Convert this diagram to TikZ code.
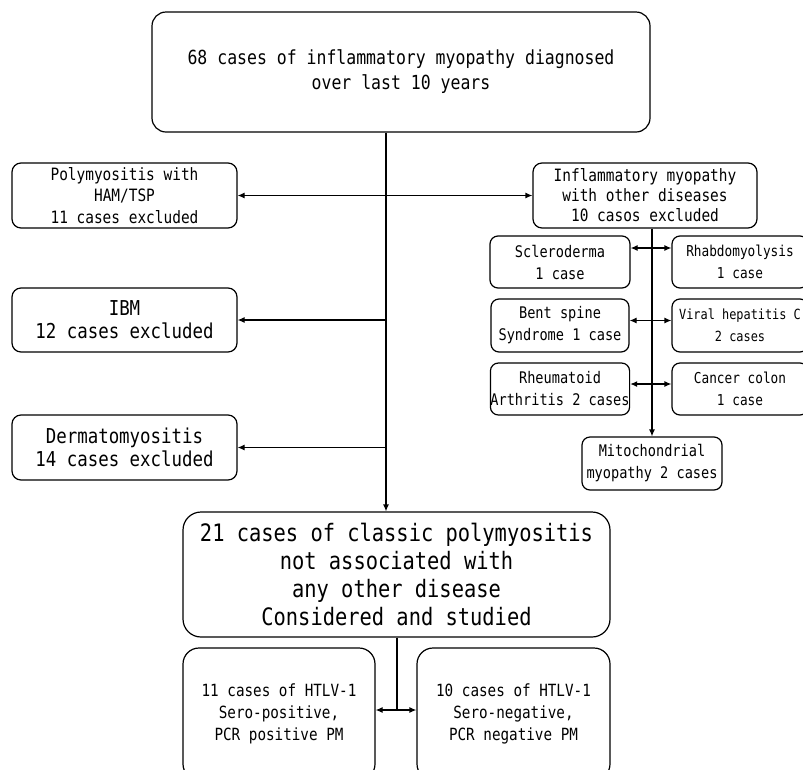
\documentclass[tikz,border=0pt]{standalone}
\usepackage{fontspec}
\usetikzlibrary{arrows.meta,calc}
\newfontfamily\gothic[FakeStretch=0.85]{DejaVu Sans Mono}
\newcommand{\myfs}[2]{\fontsize{#1}{#2}\selectfont}
\tikzset{
  box/.style={draw, line width=1.2pt, rounded corners=#1, align=center, inner sep=0pt},
  box/.default=8pt,
  arr/.style={line width=1.2pt, -{Latex[length=7pt,width=6pt]}},
  darr/.style={line width=1.2pt, {Latex[length=7pt,width=6pt]}-{Latex[length=7pt,width=6pt]}},
  ln/.style={line width=1.2pt}
}
\begin{document}
\begin{tikzpicture}[x=1pt,y=-1pt]
\useasboundingbox (0,0) rectangle (803,769);
\clip (0,0) rectangle (803,769);
\fill[white] (0,0) rectangle (803,769);

\node[box=14pt, minimum width=498pt, minimum height=120pt, font={\gothic\myfs{19.4pt}{25pt}}] (top) at (401,72)
  {68 cases of inflammatory myopathy diagnosed\\over last 10 years};

\node[box=9pt, minimum width=225pt, minimum height=65pt, font={\gothic\myfs{17pt}{21.5pt}}] (poly) at (124.5,195.5)
  {Polymyositis with\\HAM/TSP\\11 cases excluded};
\node[box=9pt, minimum width=225pt, minimum height=64pt, font={\gothic\myfs{20.5pt}{23pt}}] (ibm) at (124.5,320)
  {IBM\\12 cases excluded};
\node[box=9pt, minimum width=225pt, minimum height=65pt, font={\gothic\myfs{20.5pt}{23pt}}] (derm) at (124.5,447.5)
  {Dermatomyositis\\14 cases excluded};

\node[box=9pt, minimum width=224pt, minimum height=65pt, font={\gothic\myfs{17pt}{20pt}}] (infl) at (645,195.5)
  {Inflammatory myopathy\\with other diseases\\10 casos excluded};

\node[box=8pt, minimum width=140pt, minimum height=52pt, font={\gothic\myfs{16pt}{22pt}}] (scl) at (560,262)
  {Scleroderma\\1 case};
\node[box=8pt, minimum width=136pt, minimum height=52pt, font={\gothic\myfs{15pt}{22pt}}] (rhab) at (740,262)
  {Rhabdomyolysis\\1 case};
\node[box=8pt, minimum width=138pt, minimum height=53pt, font={\gothic\myfs{16pt}{22pt}}] (bent) at (560,325.5)
  {Bent spine\\Syndrome 1 case};
\node[box=8pt, minimum width=136pt, minimum height=53pt, font={\gothic\myfs{14pt}{22pt}}] (viral) at (740,325.5)
  {Viral hepatitis C\\2 cases};
\node[box=8pt, minimum width=138pt, minimum height=52pt, font={\gothic\myfs{16pt}{22pt}}] (rheu) at (560,389)
  {Rheumatoid\\Arthritis 2 cases};
\node[box=8pt, minimum width=136pt, minimum height=52pt, font={\gothic\myfs{15pt}{22pt}}] (canc) at (740,389)
  {Cancer colon\\1 case};
\node[box=8pt, minimum width=140pt, minimum height=53pt, font={\gothic\myfs{16pt}{22pt}}] (mito) at (652,463.5)
  {Mitochondrial\\myopathy 2 cases};

\node[box=18pt, minimum width=427pt, minimum height=125pt, font={\gothic\myfs{24pt}{28pt}}] (big) at (396.5,574.5)
  {21 cases of classic polymyositis\\not associated with\\any other disease\\Considered and studied};

\node[box=16pt, minimum width=192pt, minimum height=132pt, font={\gothic\myfs{16.8pt}{21.7pt}}] (bl) at (279,714)
  {11 cases of HTLV-1\\Sero-positive,\\PCR positive PM};
\node[box=16pt, minimum width=193pt, minimum height=132pt, font={\gothic\myfs{16.8pt}{21.7pt}}] (br) at (513.5,714)
  {10 cases of HTLV-1\\Sero-negative,\\PCR negative PM};

% trunk
\coordinate (tx) at (386,0);
\draw[arr] (top.south -| tx) -- (big.north -| tx);
\draw[darr] (poly.east) -- (infl.west);
\draw[arr] (ibm.east -| tx) -- (ibm.east);
\draw[arr] (derm.east -| tx) -- (derm.east);

% right column
\draw[arr] (infl.south -| mito.north) -- (mito.north);
\draw[darr] ([yshift=14pt]scl.east) -- ([yshift=14pt]rhab.west);
\draw[darr] ([yshift=5pt]bent.east) -- ([yshift=5pt]viral.west);
\draw[darr] ([yshift=5pt]rheu.east) -- ([yshift=5pt]canc.west);

% bottom
\coordinate (bx) at (397,710);
\draw[ln] (big.south -| bx) -- (bx);
\draw[darr] (bl.east |- bx) -- (br.west |- bx);
\end{tikzpicture}
\end{document}
